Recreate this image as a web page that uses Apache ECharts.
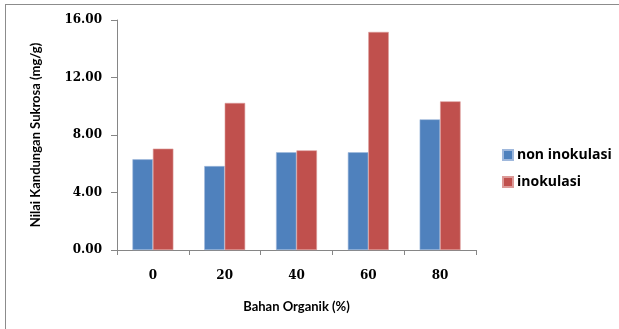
<!DOCTYPE html>
<html>
<head>
<meta charset="utf-8">
<script src="https://cdn.jsdelivr.net/npm/echarts@6/dist/echarts.min.js"></script>
<style>
html,body{margin:0;padding:0;background:#fff;}
#c{width:619px;height:329px;}
</style>
</head>
<body>
<div id="c"></div>
<script>
const categories = ['0', '20', '40', '60', '80'];
const nonInokulasi = [6.31, 5.84, 6.80, 6.80, 9.09];
const inokulasi = [7.05, 10.23, 6.93, 15.17, 10.34];
const seriesNames = ['non inokulasi', 'inokulasi'];
const yTicks = [0, 4, 8, 12, 16];
const xTitle = 'Bahan Organik (%)';
const yTitle = 'Nilai Kandungan Sukrosa (mg/g)';

const chart = echarts.init(document.getElementById('c'), null, {renderer: 'canvas'});
const axisColor = '#868686';
const option = {
  animation: false,
  backgroundColor: '#ffffff',
  graphic: [
    {type: 'line', shape: {x1: 5, y1: 4.5, x2: 619, y2: 4.5}, style: {stroke: '#8c8c8c', lineWidth: 1}},
    {type: 'line', shape: {x1: 5.5, y1: 4, x2: 5.5, y2: 329}, style: {stroke: '#8c8c8c', lineWidth: 1}}
  ],
  grid: {left: 117, right: 143, top: 20, bottom: 79, containLabel: false},
  legend: {
    orient: 'vertical',
    left: 502,
    top: 148,
    padding: 0,
    itemWidth: 10,
    itemHeight: 10,
    itemGap: 13,
    icon: 'rect',
    textStyle: {fontFamily: 'Open Sans', fontWeight: 'bold', fontSize: 14, color: '#000', padding: [0, 0, 0, -1]},
    data: seriesNames
  },
  xAxis: {
    type: 'category',
    data: categories,
    name: xTitle,
    nameLocation: 'middle',
    nameGap: 50,
    nameTextStyle: {fontFamily: 'Lato', fontWeight: 'bold', fontSize: 13, color: '#000'},
    axisLine: {show: true, lineStyle: {color: axisColor}},
    axisTick: {show: true, length: 5, lineStyle: {color: axisColor}},
    axisLabel: {fontFamily: 'DejaVu Serif', fontWeight: 'bold', fontSize: 12, color: '#000', margin: 20}
  },
  yAxis: {
    type: 'value',
    min: yTicks[0],
    max: yTicks[yTicks.length - 1],
    interval: yTicks[1] - yTicks[0],
    name: yTitle,
    nameLocation: 'middle',
    nameGap: 75,
    nameRotate: 90,
    nameTextStyle: {fontFamily: 'Lato', fontWeight: 'bold', fontSize: 13, color: '#000'},
    axisLine: {show: true, lineStyle: {color: axisColor}},
    axisTick: {show: true, length: 6, lineStyle: {color: axisColor}},
    splitLine: {show: false},
    axisLabel: {
      fontFamily: 'DejaVu Serif', fontWeight: 'bold', fontSize: 12, color: '#000', margin: 15,
      formatter: v => v.toFixed(2)
    }
  },
  series: [
    {name: seriesNames[0], type: 'bar', data: nonInokulasi, barGap: '0%', barCategoryGap: '43%',
     itemStyle: {color: '#4F81BD', borderColor: '#9fb8dc', borderWidth: 0.6}},
    {name: seriesNames[1], type: 'bar', data: inokulasi, barGap: '0%', barCategoryGap: '43%',
     itemStyle: {color: '#C0504D', borderColor: '#dc9a98', borderWidth: 0.6}}
  ]
};
chart.setOption(option);
</script>
</body>
</html>
